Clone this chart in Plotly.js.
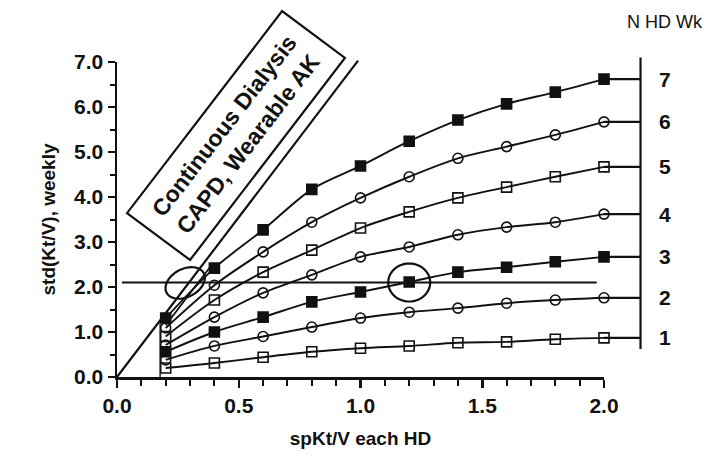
<!DOCTYPE html>
<html>
<head>
<meta charset="utf-8">
<script src="https://cdn.plot.ly/plotly-3.0.1.min.js"></script>
<style>
html,body{margin:0;padding:0;background:#fff;}
#chart{width:723px;height:461px;}
</style>
</head>
<body>
<div id="chart"></div>
<script>
// ---- data ----
const spKtV = [0.2, 0.4, 0.6, 0.8, 1.0, 1.2, 1.4, 1.6, 1.8, 2.0];
const hd7 = [1.31, 2.42, 3.27, 4.17, 4.69, 5.24, 5.71, 6.07, 6.33, 6.62];
const hd6 = [1.09, 2.04, 2.78, 3.44, 3.98, 4.45, 4.86, 5.12, 5.38, 5.67];
const hd5 = [0.90, 1.71, 2.33, 2.82, 3.31, 3.67, 3.98, 4.22, 4.45, 4.67];
const hd4 = [0.71, 1.33, 1.87, 2.27, 2.67, 2.89, 3.16, 3.33, 3.44, 3.62];
const hd3 = [0.56, 1.00, 1.33, 1.67, 1.89, 2.11, 2.33, 2.44, 2.56, 2.67];
const hd2 = [0.38, 0.69, 0.90, 1.11, 1.31, 1.44, 1.53, 1.64, 1.71, 1.76];
const hd1 = [0.20, 0.31, 0.44, 0.56, 0.64, 0.69, 0.76, 0.78, 0.84, 0.87];
const seriesNames = ['7', '6', '5', '4', '3', '2', '1'];
const seriesValues = [hd7, hd6, hd5, hd4, hd3, hd2, hd1];
const xTickVals = [0, 0.5, 1.0, 1.5, 2.0];
const xTickText = ['0.0', '0.5', '1.0', '1.5', '2.0'];
const yTickVals = [0, 1, 2, 3, 4, 5, 6, 7];
const yTickText = ['0.0', '1.0', '2.0', '3.0', '4.0', '5.0', '6.0', '7.0'];
const targetLevel = 2.1;      // horizontal reference line
const highlightX = 1.2;       // circled point
const continuousSlope = 7.1;  // continuous dialysis line

// ---- styles ----
const symbols = ['square', 'circle-open', 'square-open', 'circle-open', 'square', 'circle-open', 'square-open'];
const W = 723, H = 461;
const PX0 = 117, PY0 = 377, SX = 243.5, SY = 45;
const FONT = 'Liberation Sans, Arial, sans-serif';
const INK = '#111';

const traces = [];
seriesValues.forEach((vals, i) => {
  traces.push({
    x: spKtV, y: vals, xaxis: 'x2', yaxis: 'y2', type: 'scatter', mode: 'lines+markers',
    line: {color: INK, width: 1.9, shape: 'spline', smoothing: 0.9},
    marker: {symbol: symbols[i], size: 10, color: INK, line: {color: INK, width: 1.6}},
    name: seriesNames[i], showlegend: false, hoverinfo: 'skip'
  });
  const last = vals[vals.length - 1];
  traces.push({
    x: [spKtV[spKtV.length - 1], 2.15], y: [last, last], xaxis: 'x2', yaxis: 'y2',
    type: 'scatter', mode: 'lines', line: {color: INK, width: 2.2},
    showlegend: false, hoverinfo: 'skip'
  });
});
// dummy trace for main axes
traces.push({x: [0, 2], y: [0, 7], xaxis: 'x', yaxis: 'y', mode: 'markers',
  marker: {opacity: 0}, showlegend: false, hoverinfo: 'skip'});

function ellipsePath(cx, cy, rxp, ryp, angDeg) {
  const a = angDeg * Math.PI / 180;
  let d = '';
  for (let k = 0; k <= 48; k++) {
    const t = k / 48 * 2 * Math.PI;
    const ex = rxp * Math.cos(t), ey = ryp * Math.sin(t);
    const px = ex * Math.cos(a) - ey * Math.sin(a);
    const py = ex * Math.sin(a) + ey * Math.cos(a);
    d += (k === 0 ? 'M' : 'L') + (cx + px / SX).toFixed(4) + ',' + (cy + py / SY).toFixed(4);
  }
  return d + 'Z';
}

const lastVals = seriesValues.map(v => v[v.length - 1]);
const shapes = [
  {type: 'line', xref: 'x2', yref: 'y2', x0: 0, y0: 0, x1: 0.99, y1: 0.99 * continuousSlope, line: {color: INK, width: 2.2}},
  {type: 'line', xref: 'x2', yref: 'y2', x0: 0.2, y0: 1.15, x1: 0.38, y1: 1.15 + 0.18 * continuousSlope, line: {color: INK, width: 1.8}},
  {type: 'line', xref: 'x2', yref: 'y2', x0: 0.177, y0: 0, x1: 0.177, y1: 1.27, line: {color: INK, width: 1.3}},
  {type: 'line', xref: 'x2', yref: 'y2', x0: 0.02, y0: targetLevel, x1: 1.97, y1: targetLevel, line: {color: INK, width: 2.2}},
  {type: 'line', xref: 'x2', yref: 'y2', x0: 2.15, y0: Math.min(...lastVals) - 0.25, x1: 2.15, y1: Math.max(...lastVals) + 0.48, line: {color: INK, width: 2.2}},
  {type: 'path', xref: 'x2', yref: 'y2', path: ellipsePath(0.28, 2.09, 21, 14, 28), line: {color: INK, width: 2.2}},
  {type: 'path', xref: 'x2', yref: 'y2', path: ellipsePath(highlightX, targetLevel, 21, 19, 0), line: {color: INK, width: 2.2}},
  {type: 'path', xref: 'x2', yref: 'y2', path: 'M0.041,3.64 L0.300,2.60 L0.936,7.09 L0.678,8.13 Z', line: {color: INK, width: 2.2}}
];

const annotations = seriesNames.map((n, i) => ({
  xref: 'x2', yref: 'y2', x: 2.25, y: lastVals[i], text: n, showarrow: false,
  font: {family: FONT, size: 21, color: INK, weight: 'bold'}, xanchor: 'center', yanchor: 'middle'
}));
annotations.push({xref: 'x2', yref: 'y2', x: 2.25, y: 7.89, text: 'N HD Wk', showarrow: false,
  font: {family: FONT, size: 18, color: INK}, xanchor: 'center', yanchor: 'middle'});
annotations.push({xref: 'x2', yref: 'y2', x: 0.489, y: 5.37, text: 'Continuous Dialysis<br>CAPD, Wearable AK',
  showarrow: false, textangle: -52.5, font: {family: FONT, size: 23, color: INK, weight: 'bold'},
  xanchor: 'center', yanchor: 'middle'});

const tickFont = {family: FONT, size: 21, color: INK, weight: 'bold'};
const titleFont = {family: FONT, size: 19, color: INK, weight: 'bold'};
const layout = {
  width: W, height: H,
  margin: {l: 0, r: 0, t: 0, b: 0, pad: 0},
  paper_bgcolor: '#fff', plot_bgcolor: 'rgba(0,0,0,0)',
  showlegend: false,
  xaxis: {
    domain: [PX0 / W, (PX0 + 2 * SX) / W], range: [0, 2], anchor: 'y',
    showline: true, linewidth: 2.5, linecolor: INK, showgrid: false, zeroline: false,
    tickmode: 'array', tickvals: xTickVals, ticktext: xTickText,
    ticks: 'outside', ticklen: 8, tickwidth: 2.5, tickcolor: INK,
    minor: {dtick: 0.1, ticks: 'outside', ticklen: 6, tickwidth: 2, tickcolor: INK, showgrid: false},
    tickfont: tickFont,
    title: {text: 'spKt/V each HD', font: titleFont, standoff: 16}
  },
  yaxis: {
    domain: [(H - PY0) / H, (H - PY0 + 7 * SY) / H], range: [0, 7], anchor: 'x',
    showline: true, linewidth: 2.5, linecolor: INK, showgrid: false, zeroline: false,
    tickmode: 'array', tickvals: yTickVals, ticktext: yTickText,
    ticks: 'outside', ticklen: 7, tickwidth: 2.5, tickcolor: INK,
    minor: {dtick: 0.5, ticks: 'outside', ticklen: 5, tickwidth: 2, tickcolor: INK, showgrid: false},
    tickfont: tickFont,
    title: {text: 'std(Kt/V), weekly', font: titleFont, standoff: 14}
  },
  xaxis2: {domain: [0, 1], range: [-PX0 / SX, (W - PX0) / SX], anchor: 'y2', visible: false, fixedrange: true},
  yaxis2: {domain: [0, 1], range: [-(H - PY0) / SY, PY0 / SY], anchor: 'x2', visible: false, fixedrange: true},
  shapes: shapes,
  annotations: annotations
};

Plotly.newPlot('chart', traces, layout, {displayModeBar: false, staticPlot: true});
</script>
</body>
</html>
